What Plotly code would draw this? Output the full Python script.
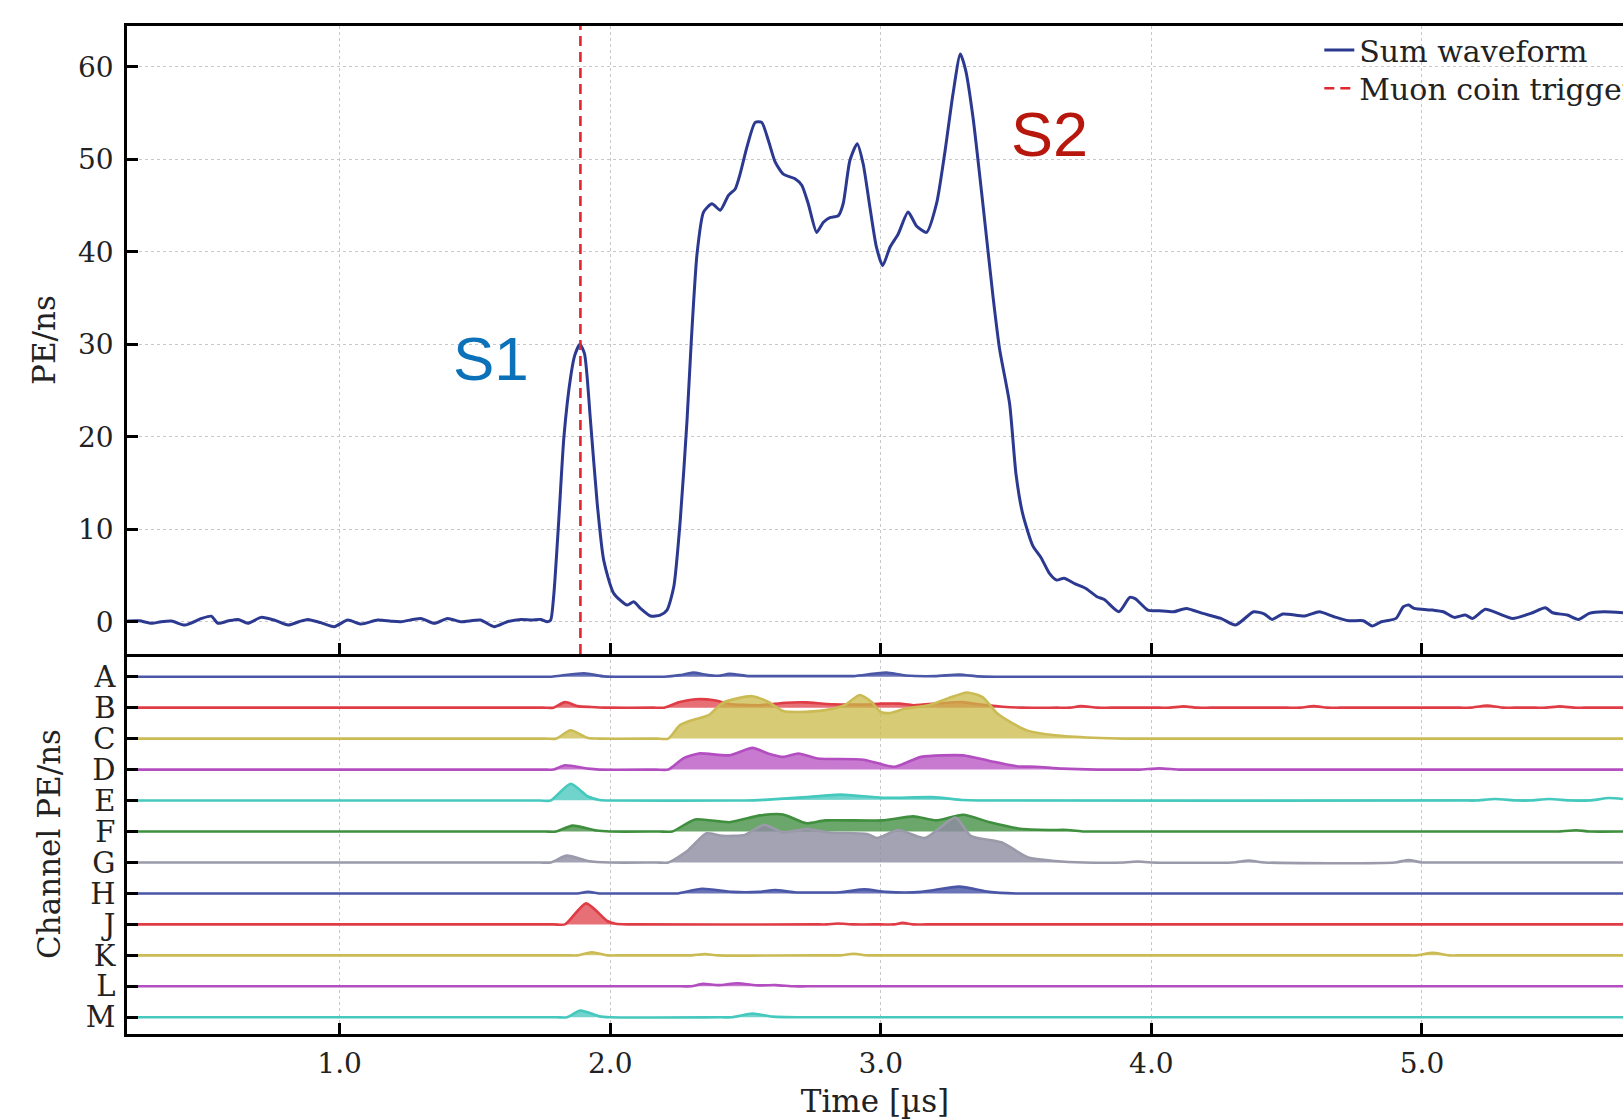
import plotly.graph_objects as go

# ---------------- data ----------------
X_MIN, X_MAX = 0.2143, 5.743
X_TICKS = [1.0, 2.0, 3.0, 4.0, 5.0]
X_TICK_TEXT = ["1.0", "2.0", "3.0", "4.0", "5.0"]
Y_TICKS = [0, 10, 20, 30, 40, 50, 60]
TRIGGER_T = 1.89

sum_t = [0.214, 0.22, 0.26, 0.305, 0.34, 0.379, 0.428, 0.49, 0.526, 0.55, 0.59, 0.625, 0.661, 0.71,
         0.758, 0.81, 0.85, 0.883, 0.93, 0.98, 1.03, 1.079, 1.141, 1.19, 1.227, 1.30, 1.35, 1.399,
         1.448, 1.52, 1.571, 1.62, 1.67, 1.71, 1.743, 1.768, 1.78,
         1.792, 1.81, 1.829, 1.854, 1.869, 1.888, 1.905, 1.927, 1.952, 1.976, 2.013, 2.063, 2.087,
         2.112, 2.149, 2.185, 2.21, 2.235, 2.259, 2.284, 2.30, 2.321, 2.345, 2.376, 2.407, 2.437,
         2.462, 2.48, 2.505, 2.536, 2.56, 2.585, 2.61, 2.64, 2.683, 2.708, 2.732, 2.763, 2.788,
         2.812, 2.843, 2.861, 2.886, 2.913, 2.935, 2.96, 2.984, 3.007, 3.034, 3.064, 3.101, 3.132,
         3.169, 3.206, 3.236, 3.267, 3.294, 3.314, 3.341, 3.378, 3.415, 3.439, 3.476, 3.50, 3.525,
         3.562, 3.593, 3.624, 3.65, 3.677, 3.718, 3.758, 3.799, 3.826, 3.88, 3.92, 3.94, 3.987,
         4.028, 4.082, 4.129, 4.19, 4.257, 4.311, 4.378, 4.418, 4.446, 4.486, 4.567, 4.621, 4.675,
         4.729, 4.783, 4.816, 4.85, 4.904, 4.931, 4.951, 4.971, 5.039, 5.079, 5.12, 5.16, 5.187,
         5.234, 5.281, 5.335, 5.402, 5.456, 5.483, 5.537, 5.578, 5.618, 5.672, 5.743]
sum_v = [0.05, 0.07, 0.1, -0.17, 0.0, 0.07, -0.36, 0.36, 0.6, -0.17, 0.1, 0.25, -0.17, 0.47,
         0.18, -0.36, 0.0, 0.25, -0.1, -0.54, 0.18, -0.25, 0.18, 0.05, 0.0, 0.36, -0.17, 0.36,
         0.0, 0.18, -0.54, 0.0, 0.25, 0.2, 0.25, 0.0, 0.18,
         3.07, 11.0, 20.0, 26.5, 28.8, 30.0, 29.0, 21.8, 12.8, 6.66, 3.07, 1.8, 2.16,
         1.44, 0.62, 0.72, 1.26, 3.78, 11.0, 21.8, 30.5, 39.8, 44.3, 45.2, 44.5, 46.1,
         46.8, 48.4, 51.3, 54.0, 54.0, 52.0, 49.7, 48.4, 47.9, 47.2, 45.2, 42.1, 43.2,
         43.7, 43.9, 45.2, 49.9, 51.7, 49.5, 44.8, 40.5, 38.5, 40.5, 41.9, 44.3, 42.8,
         42.1, 45.2, 50.6, 57.1, 61.4, 59.6, 54.5, 45.0, 35.1, 29.5, 23.6, 15.9, 11.6,
         8.2, 6.9, 5.2, 4.5, 4.7, 4.1, 3.6, 2.7, 2.4, 1.08, 2.63, 2.5, 1.26,
         1.19, 1.08, 1.44, 0.9, 0.36, -0.36, 1.08, 0.83, 0.25, 0.83, 0.62, 1.08, 0.54,
         0.11, 0.11, -0.46, 0.0, 0.36, 1.62, 1.8, 1.44, 1.26, 1.08, 0.47, 0.72, 0.36,
         1.34, 0.9, 0.36, 0.9, 1.51, 0.97, 0.72, 0.25, 0.9, 1.08, 0.97]

channels = ["A", "B", "C", "D", "E", "F", "G", "H", "J", "K", "L", "M"]

# per-channel traces: (time [us], amplitude in units of the channel spacing)
ch_A = [(0.214, 0), (1.74, 0), (1.78, 0), (1.82, 0.04), (1.904, 0.11), (1.975, 0.01), (2.02, 0),
        (2.16, 0), (2.2, 0), (2.257, 0.05), (2.307, 0.13), (2.356, 0.06), (2.40, 0.03), (2.44, 0.09),
        (2.512, 0.02), (2.56, 0.02), (2.86, 0.02), (2.9, 0.02), (2.979, 0.1), (3.021, 0.13),
        (3.092, 0.04), (3.2, 0.02), (3.29, 0.07), (3.36, 0.01), (3.42, 0), (3.5, 0), (5.743, 0)]
ch_B = [(0.214, 0), (1.75, 0), (1.79, 0), (1.833, 0.18), (1.88, 0.05), (1.93, 0.02), (1.98, 0),
        (2.16, 0), (2.2, 0), (2.257, 0.18), (2.314, 0.27), (2.385, 0.24), (2.44, 0.12), (2.55, 0.08),
        (2.65, 0.16), (2.724, 0.17), (2.80, 0.12), (2.88, 0.1), (2.95, 0.1), (3.0, 0.13), (3.07, 0.13),
        (3.12, 0.08), (3.22, 0.14), (3.30, 0.18), (3.37, 0.1), (3.45, 0.03), (3.52, 0), (3.65, 0),
        (3.70, 0), (3.74, 0.05), (3.8, 0), (3.85, 0), (4.03, 0), (4.07, 0), (4.12, 0.04), (4.17, 0),
        (4.22, 0), (4.5, 0), (4.55, 0), (4.6, 0.05), (4.65, 0), (4.7, 0), (5.14, 0), (5.18, 0),
        (5.24, 0.07), (5.3, 0), (5.34, 0), (5.42, 0), (5.46, 0), (5.51, 0.04), (5.56, 0), (5.6, 0),
        (5.743, 0)]
ch_C = [(0.214, 0), (1.76, 0), (1.80, 0), (1.854, 0.27), (1.918, 0.02), (1.96, 0), (2.17, 0),
        (2.215, 0), (2.257, 0.43), (2.30, 0.59), (2.364, 0.76), (2.413, 1.14), (2.47, 1.30),
        (2.526, 1.37), (2.583, 1.19), (2.639, 0.89), (2.696, 0.86), (2.795, 0.92), (2.866, 1.08),
        (2.922, 1.41), (2.965, 1.19), (3.0, 0.86), (3.035, 0.83), (3.092, 0.97), (3.177, 1.08),
        (3.248, 1.30), (3.318, 1.49), (3.375, 1.35), (3.431, 0.81), (3.488, 0.49), (3.545, 0.25),
        (3.644, 0.11), (3.785, 0.03), (3.9, 0), (3.95, 0), (5.743, 0)]
ch_D = [(0.214, 0), (1.75, 0), (1.79, 0), (1.833, 0.14), (1.918, 0.03), (1.96, 0), (2.17, 0),
        (2.215, 0), (2.27, 0.36), (2.328, 0.52), (2.44, 0.46), (2.526, 0.70), (2.583, 0.52),
        (2.639, 0.41), (2.696, 0.52), (2.767, 0.36), (2.936, 0.32), (3.05, 0.09), (3.149, 0.41),
        (3.304, 0.46), (3.403, 0.28), (3.502, 0.11), (3.573, 0.09), (3.672, 0.03), (3.8, 0),
        (3.92, 0), (3.96, 0), (4.03, 0.04), (4.1, 0), (4.15, 0), (5.743, 0)]
ch_E = [(0.214, 0), (1.74, 0), (1.78, 0), (1.854, 0.54), (1.918, 0.13), (1.96, 0.02), (2.0, 0),
        (2.45, 0), (2.5, 0), (2.583, 0.03), (2.724, 0.11), (2.851, 0.19), (3.007, 0.09),
        (3.191, 0.11), (3.3, 0.02), (3.36, 0), (5.15, 0), (5.2, 0), (5.27, 0.05), (5.35, 0),
        (5.40, 0), (5.47, 0.05), (5.55, 0), (5.62, 0), (5.69, 0.08), (5.743, 0.05)]
ch_F = [(0.214, 0), (1.76, 0), (1.80, 0), (1.861, 0.19), (1.95, 0.03), (2.0, 0), (2.18, 0),
        (2.229, 0), (2.314, 0.39), (2.441, 0.30), (2.554, 0.52), (2.639, 0.55), (2.724, 0.27),
        (2.795, 0.36), (3.007, 0.36), (3.12, 0.49), (3.205, 0.36), (3.304, 0.54), (3.403, 0.30),
        (3.516, 0.09), (3.62, 0.05), (3.69, 0.05), (3.75, 0), (3.8, 0), (5.45, 0), (5.5, 0),
        (5.57, 0.04), (5.62, 0), (5.743, 0)]
ch_G = [(0.214, 0), (1.74, 0), (1.78, 0), (1.84, 0.22), (1.918, 0.05), (2.0, 0), (2.17, 0),
        (2.215, 0), (2.286, 0.38), (2.356, 0.94), (2.413, 0.86), (2.498, 0.89), (2.569, 1.22),
        (2.639, 0.97), (2.724, 1.08), (2.809, 0.97), (2.95, 0.92), (2.986, 0.79), (3.064, 1.05),
        (3.163, 0.79), (3.276, 1.45), (3.332, 0.86), (3.446, 0.65), (3.545, 0.16), (3.644, 0.05),
        (3.75, 0), (3.90, 0), (3.95, 0.03), (4.0, 0), (4.3, 0), (4.36, 0.06), (4.42, 0), (4.9, 0),
        (4.95, 0.08), (5.0, 0), (5.05, 0), (5.743, 0)]
ch_H = [(0.214, 0), (1.84, 0), (1.88, 0), (1.918, 0.05), (1.96, 0), (2.0, 0), (2.21, 0),
        (2.25, 0), (2.34, 0.15), (2.45, 0.05), (2.55, 0.05), (2.61, 0.11), (2.68, 0.04),
        (2.85, 0.04), (2.94, 0.13), (3.02, 0.05), (3.15, 0.05), (3.29, 0.22), (3.4, 0.05),
        (3.5, 0), (3.55, 0), (5.743, 0)]
ch_J = [(0.214, 0), (1.79, 0), (1.833, 0), (1.911, 0.68), (1.989, 0.11), (2.02, 0.02), (2.07, 0),
        (2.76, 0), (2.8, 0), (2.84, 0.03), (2.9, 0), (3.0, 0), (3.05, 0), (3.08, 0.05), (3.12, 0),
        (3.17, 0), (5.743, 0)]
ch_K = [(0.214, 0), (1.84, 0), (1.88, 0), (1.932, 0.1), (1.99, 0), (2.04, 0), (2.26, 0), (2.3, 0),
        (2.35, 0.04), (2.4, 0), (2.81, 0), (2.85, 0), (2.9, 0.05), (2.95, 0), (3.0, 0), (4.94, 0),
        (4.98, 0), (5.04, 0.08), (5.1, 0), (5.15, 0), (5.743, 0)]
ch_L = [(0.214, 0), (2.26, 0), (2.3, 0), (2.342, 0.08), (2.40, 0.04), (2.47, 0.1), (2.55, 0.03),
        (2.61, 0.04), (2.68, 0), (2.73, 0), (5.743, 0)]
ch_M = [(0.214, 0), (1.80, 0), (1.84, 0), (1.89, 0.22), (1.96, 0.03), (2.0, 0), (2.41, 0),
        (2.45, 0), (2.526, 0.12), (2.6, 0.02), (2.7, 0), (2.75, 0), (5.743, 0)]

channel_data = [ch_A, ch_B, ch_C, ch_D, ch_E, ch_F, ch_G, ch_H, ch_J, ch_K, ch_L, ch_M]

# ---------------- style ----------------
palette = [
    ("#4a56a6", "rgba(58,70,160,0.75)"),    # blue
    ("#df3c45", "rgba(222,55,65,0.72)"),    # red
    ("#cbbb55", "rgba(202,186,72,0.75)"),   # olive yellow
    ("#b24ec0", "rgba(176,66,188,0.70)"),   # purple
    ("#45c8bd", "rgba(58,196,184,0.72)"),   # teal
    ("#3f8f3f", "rgba(58,138,58,0.75)"),    # green
    ("#9a9aaa", "rgba(140,140,160,0.80)"),  # grey
]
SERIF = "DejaVu Serif"
SANS = "Liberation Sans"
GRID = "#c8c8c8"
TXT = "#222222"

fig = go.Figure()

# sum waveform (upper panel)
fig.add_trace(go.Scatter(
    x=sum_t, y=sum_v, mode="lines", name="Sum waveform", legend="legend",
    line=dict(color="#2b3990", width=3, shape="spline", smoothing=0.6),
    xaxis="x2", yaxis="y"))
fig.add_trace(go.Scatter(
    x=[TRIGGER_T, TRIGGER_T], y=[-3.5, 64.42], mode="lines", name="Muon coin trigger",
    legend="legend2",
    line=dict(color="#e0262f", width=2.6, dash="10px,6px"),
    xaxis="x2", yaxis="y"))

# channel traces (lower panel), stacked with one unit spacing
for i, (name, pts) in enumerate(zip(channels, channel_data)):
    offset = -i
    lc, fc = palette[i % len(palette)]
    t = [p[0] for p in pts]
    v = [p[1] + offset for p in pts]
    fig.add_trace(go.Scatter(
        x=t, y=v, mode="lines", name=name,
        line=dict(color=lc, width=2.6, shape="spline", smoothing=0.6),
        fill="toself", fillcolor=fc, showlegend=False,
        xaxis="x", yaxis="y2"))

TOP, BOTTOM, MID = 26, 1034, 654
SPLIT = (BOTTOM - MID) / float(BOTTOM - TOP)

tick_common = dict(ticks="inside", ticklen=11, tickwidth=2.5, tickcolor="black",
                   showline=True, linecolor="black", linewidth=2.5, zeroline=False)
legend_common = dict(xanchor="left", yanchor="top", bgcolor="rgba(255,255,255,0)", borderwidth=0,
                     font=dict(family=SERIF, size=30, color=TXT))

fig.update_layout(
    width=1623, height=1119,
    margin=dict(l=127, r=0, t=TOP, b=1119 - BOTTOM, autoexpand=False),
    paper_bgcolor="white", plot_bgcolor="white",
    showlegend=True,
    legend=dict(x=0.797, y=1.002, **legend_common),
    legend2=dict(x=0.797, y=0.964, **legend_common),
    xaxis=dict(domain=[0, 1], anchor="y2", range=[X_MIN, X_MAX],
               tickmode="array", tickvals=X_TICKS, ticktext=X_TICK_TEXT,
               tickfont=dict(family=SERIF, size=28, color=TXT), ticklabelstandoff=3,
               showgrid=True, gridcolor=GRID, griddash="dot", gridwidth=1,
               title=dict(text="Time [µs]", font=dict(family=SERIF, size=31, color=TXT), standoff=13),
               **tick_common),
    xaxis2=dict(domain=[0, 1], anchor="y", matches="x", range=[X_MIN, X_MAX],
                tickmode="array", tickvals=X_TICKS, showticklabels=False, mirror=True,
                showgrid=True, gridcolor=GRID, griddash="dot", gridwidth=1,
                **tick_common),
    yaxis=dict(domain=[SPLIT, 1], anchor="x2", range=[-3.49, 64.42],
               tickmode="array", tickvals=Y_TICKS,
               tickfont=dict(family=SERIF, size=28, color=TXT), ticklabelstandoff=5,
               showgrid=True, gridcolor=GRID, griddash="dot", gridwidth=1,
               title=dict(text="PE/ns", font=dict(family=SERIF, size=31, color=TXT), standoff=14),
               **tick_common),
    yaxis2=dict(domain=[0, SPLIT], anchor="x", range=[-11.54, 0.733],
                tickmode="array", tickvals=[-i for i in range(len(channels))], ticktext=channels,
                tickfont=dict(family=SERIF, size=29, color=TXT), ticklabelstandoff=3,
                showgrid=False,
                title=dict(text="Channel PE/ns", font=dict(family=SERIF, size=31, color=TXT), standoff=16),
                **tick_common),
    annotations=[
        dict(x=1.56, y=28.5, xref="x2", yref="y", text="S1", showarrow=False,
             font=dict(family=SANS, size=62, color="#0b72b9")),
        dict(x=3.625, y=52.7, xref="x2", yref="y", text="S2", showarrow=False,
             font=dict(family=SANS, size=63, color="#b7170d")),
    ],
)

fig.write_html("out.html")
